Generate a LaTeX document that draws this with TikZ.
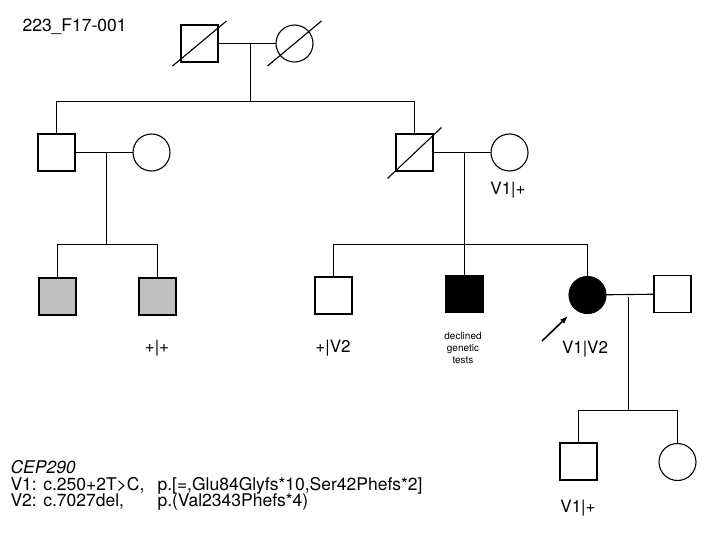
\documentclass[tikz,border=0pt]{standalone}
\usepackage{fontspec}
\setmainfont{TeX Gyre Heros}
\usetikzlibrary{arrows.meta}
\begin{document}
\begin{tikzpicture}[x=1pt,y=-1pt,
  line width=1.1pt,
  male/.style={draw,rectangle,minimum size=37pt,inner sep=0pt,outer sep=0pt,line width=1.1pt},
  female/.style={draw,circle,minimum size=37pt,inner sep=0pt,outer sep=0pt,line width=1.1pt},
  affected/.style={fill=black},
  grayfill/.style={fill=gray75},
  lbl/.style={font=\fontsize{17}{17}\selectfont,inner sep=0pt},
  small/.style={font=\fontsize{10}{12}\selectfont,align=center,inner sep=0pt},
  legend/.style={font=\fontsize{17.5}{17.5}\selectfont,inner sep=0pt,anchor=base west}
]
\definecolor{gray75}{HTML}{C0C0C0}
\useasboundingbox (0,0) rectangle (720,540);
% title
\node[anchor=base west,inner sep=0pt,font=\fontsize{17.5}{17.5}\selectfont] (title) at (22,32) {223\_F17-001};
% generation I
\node[male] (I1) at (199.5,43.5) {};
\node[female] (I2) at (294.5,43.5) {};
% generation II
\node[male] (II1) at (56.5,152.5) {};
\node[female] (II2) at (151.5,152.5) {};
\node[male] (II3) at (414.5,152.5) {};
\node[female] (II4) at (509.5,152.5) {};
% generation III
\node[male,grayfill] (III1) at (57.5,296.5) {};
\node[male,grayfill] (III2) at (157.5,296.5) {};
\node[male] (III3) at (333.5,295.5) {};
\node[male,affected] (III4) at (464.5,294) {};
\node[female,affected] (III5) at (587.5,295) {};
\node[male] (III6) at (672.5,294) {};
% generation IV
\node[male] (IV1) at (578.5,461.5) {};
\node[female] (IV2) at (677.5,462) {};
% coordinates
\coordinate (m1) at (250.5,43.5);
\coordinate (s1) at (250.5,101.5);
\coordinate (m2) at (106.5,152.5);
\coordinate (s2) at (106.5,244.5);
\coordinate (m3) at (464.5,152.5);
\coordinate (s3) at (464.5,244.5);
\coordinate (m4) at (628.5,296.5);
\coordinate (s4) at (628.5,410.5);
% connectors
\draw (I1) -- (I2);
\draw (m1) -- (s1);
\draw (II1.north) |- (s1) -| (II3.north);
\draw (II1) -- (II2);
\draw (m2) -- (s2);
\draw (III1.north) |- (s2) -| (III2.north);
\draw (II3) -- (II4);
\draw (m3) -- (s3);
\draw (III3.north) |- (s3) -| (III5.north);
\draw (s3) -- (III4.north);
\draw (III5) -- (III6);
\draw (m4) -- (s4);
\draw (IV1.north) |- (s4) -| (IV2.north);
% deceased slashes
\path (I1) ++(-27,22.5) coordinate (d1a) (I1) ++(27,-22.5) coordinate (d1b);
\path (I2) ++(-27,22.5) coordinate (d2a) (I2) ++(27,-22.5) coordinate (d2b);
\path (II3) ++(-27,26) coordinate (d3a) (II3) ++(27,-25) coordinate (d3b);
\draw (d1a) -- (d1b);
\draw (d2a) -- (d2b);
\draw (d3a) -- (d3b);
% proband arrow
\coordinate (pa) at (542,341);
\coordinate (pb) at (568,316);
\draw[-{Latex[length=8pt,width=6pt]},line width=1.6pt] (pa) -- (pb);
% genotype labels
\node[lbl] (g1) at (157,348) {+|+};
\node[lbl] (g2) at (333,348) {+|V2};
\node[lbl] (g3) at (508,190) {V1|+};
\node[lbl] (g4) at (585,349) {V1|V2};
\node[lbl] (g5) at (578,508) {V1|+};
\node[small] (dec) at (463,348) {declined\\genetic\\tests};
% legend
\node[legend] (cep) at (10,473) {\itshape CEP290};
\node[legend] (v1a) at (10,490) {V1: c.250+2T>C,};
\node[legend] (v1b) at (157,490) {p.[=,Glu84Glyfs*10,Ser42Phefs*2]};
\node[legend] (v2a) at (10,506) {V2: c.7027del,};
\node[legend] (v2b) at (157,506) {p.(Val2343Phefs*4)};
\end{tikzpicture}
\end{document}
